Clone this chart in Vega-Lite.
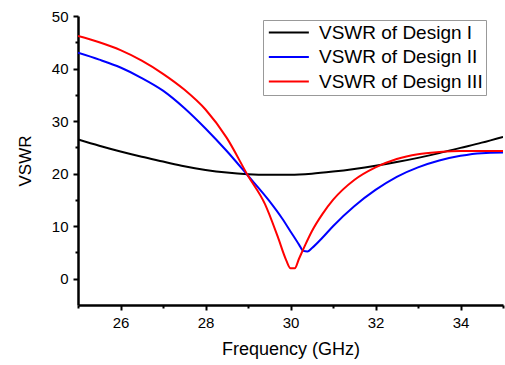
{
  "$schema": "https://vega.github.io/schema/vega-lite/v6.json",
  "width": 425,
  "height": 289,
  "autosize": "none",
  "padding": {"left": 78, "top": 16, "right": 2, "bottom": 60},
  "background": "white",
  "config": {"view": {"stroke": null}, "font": "Liberation Sans"},
  "data": {"values": [
    {"f": 25, "v": 26.5, "s": "VSWR of Design I"},
    {"f": 25.5, "v": 25.3, "s": "VSWR of Design I"},
    {"f": 26, "v": 24.2, "s": "VSWR of Design I"},
    {"f": 26.5, "v": 23.2, "s": "VSWR of Design I"},
    {"f": 27, "v": 22.3, "s": "VSWR of Design I"},
    {"f": 27.5, "v": 21.4, "s": "VSWR of Design I"},
    {"f": 28, "v": 20.7, "s": "VSWR of Design I"},
    {"f": 28.5, "v": 20.2, "s": "VSWR of Design I"},
    {"f": 29, "v": 19.9, "s": "VSWR of Design I"},
    {"f": 29.5, "v": 19.8, "s": "VSWR of Design I"},
    {"f": 30, "v": 19.8, "s": "VSWR of Design I"},
    {"f": 30.5, "v": 20.0, "s": "VSWR of Design I"},
    {"f": 31, "v": 20.4, "s": "VSWR of Design I"},
    {"f": 31.5, "v": 20.9, "s": "VSWR of Design I"},
    {"f": 32, "v": 21.5, "s": "VSWR of Design I"},
    {"f": 32.5, "v": 22.2, "s": "VSWR of Design I"},
    {"f": 33, "v": 23.0, "s": "VSWR of Design I"},
    {"f": 33.5, "v": 23.9, "s": "VSWR of Design I"},
    {"f": 34, "v": 24.9, "s": "VSWR of Design I"},
    {"f": 34.5, "v": 25.9, "s": "VSWR of Design I"},
    {"f": 35, "v": 27.0, "s": "VSWR of Design I"},
    {"f": 25, "v": 43.0, "s": "VSWR of Design II"},
    {"f": 25.5, "v": 41.7, "s": "VSWR of Design II"},
    {"f": 26, "v": 40.2, "s": "VSWR of Design II"},
    {"f": 26.5, "v": 38.2, "s": "VSWR of Design II"},
    {"f": 27, "v": 35.8, "s": "VSWR of Design II"},
    {"f": 27.5, "v": 32.5, "s": "VSWR of Design II"},
    {"f": 28, "v": 28.6, "s": "VSWR of Design II"},
    {"f": 28.5, "v": 24.3, "s": "VSWR of Design II"},
    {"f": 29, "v": 19.6, "s": "VSWR of Design II"},
    {"f": 29.5, "v": 14.8, "s": "VSWR of Design II"},
    {"f": 29.8, "v": 11.5, "s": "VSWR of Design II"},
    {"f": 30, "v": 9.0, "s": "VSWR of Design II"},
    {"f": 30.2, "v": 6.5, "s": "VSWR of Design II"},
    {"f": 30.3, "v": 5.3, "s": "VSWR of Design II"},
    {"f": 30.4, "v": 5.2, "s": "VSWR of Design II"},
    {"f": 30.5, "v": 5.8, "s": "VSWR of Design II"},
    {"f": 30.75, "v": 7.8, "s": "VSWR of Design II"},
    {"f": 31, "v": 10.0, "s": "VSWR of Design II"},
    {"f": 31.5, "v": 13.8, "s": "VSWR of Design II"},
    {"f": 32, "v": 16.9, "s": "VSWR of Design II"},
    {"f": 32.5, "v": 19.4, "s": "VSWR of Design II"},
    {"f": 33, "v": 21.2, "s": "VSWR of Design II"},
    {"f": 33.5, "v": 22.5, "s": "VSWR of Design II"},
    {"f": 34, "v": 23.4, "s": "VSWR of Design II"},
    {"f": 34.5, "v": 23.9, "s": "VSWR of Design II"},
    {"f": 35, "v": 24.0, "s": "VSWR of Design II"},
    {"f": 25, "v": 46.2, "s": "VSWR of Design III"},
    {"f": 25.5, "v": 45.0, "s": "VSWR of Design III"},
    {"f": 26, "v": 43.5, "s": "VSWR of Design III"},
    {"f": 26.5, "v": 41.5, "s": "VSWR of Design III"},
    {"f": 27, "v": 39.0, "s": "VSWR of Design III"},
    {"f": 27.5, "v": 36.0, "s": "VSWR of Design III"},
    {"f": 28, "v": 32.2, "s": "VSWR of Design III"},
    {"f": 28.5, "v": 26.8, "s": "VSWR of Design III"},
    {"f": 29, "v": 19.6, "s": "VSWR of Design III"},
    {"f": 29.4, "v": 14.2, "s": "VSWR of Design III"},
    {"f": 29.7, "v": 8.0, "s": "VSWR of Design III"},
    {"f": 29.9, "v": 3.5, "s": "VSWR of Design III"},
    {"f": 30.0, "v": 2.0, "s": "VSWR of Design III"},
    {"f": 30.1, "v": 2.0, "s": "VSWR of Design III"},
    {"f": 30.2, "v": 3.8, "s": "VSWR of Design III"},
    {"f": 30.35, "v": 6.5, "s": "VSWR of Design III"},
    {"f": 30.5, "v": 9.0, "s": "VSWR of Design III"},
    {"f": 30.75, "v": 12.3, "s": "VSWR of Design III"},
    {"f": 31, "v": 15.0, "s": "VSWR of Design III"},
    {"f": 31.5, "v": 18.8, "s": "VSWR of Design III"},
    {"f": 32, "v": 21.2, "s": "VSWR of Design III"},
    {"f": 32.5, "v": 22.8, "s": "VSWR of Design III"},
    {"f": 33, "v": 23.7, "s": "VSWR of Design III"},
    {"f": 33.5, "v": 24.1, "s": "VSWR of Design III"},
    {"f": 34, "v": 24.3, "s": "VSWR of Design III"},
    {"f": 34.5, "v": 24.3, "s": "VSWR of Design III"},
    {"f": 35, "v": 24.3, "s": "VSWR of Design III"}
  ]},
  "mark": {"type": "line", "interpolate": "monotone", "strokeWidth": 2, "clip": true},
  "encoding": {
    "x": {
      "field": "f", "type": "quantitative",
      "scale": {"domain": [25, 35], "nice": false, "zero": false},
      "axis": {
        "title": "Frequency (GHz)",
        "values": [25, 26, 27, 28, 29, 30, 31, 32, 33, 34, 35],
        "labelExpr": "datum.value % 2 == 0 && datum.value < 35 ? datum.label : ''",
        "grid": false,
        "domainColor": "#000", "domainWidth": 2.5,
        "tickColor": "#000", "tickWidth": 2,
        "tickSize": {"condition": {"test": "datum.value % 2 != 0", "value": 3}, "value": 5},
        "labelFontSize": 15, "labelColor": "#000", "labelPadding": 5,
        "titleFontSize": 18, "titleFontWeight": "normal", "titleColor": "#000", "titlePadding": 10
      }
    },
    "y": {
      "field": "v", "type": "quantitative",
      "scale": {"domain": [-5, 50], "nice": false, "zero": false},
      "axis": {
        "title": "VSWR",
        "values": [0, 5, 10, 15, 20, 25, 30, 35, 40, 45, 50],
        "labelExpr": "datum.value % 10 == 0 ? datum.label : ''",
        "grid": false,
        "domainColor": "#000", "domainWidth": 2.5,
        "tickColor": "#000", "tickWidth": 2,
        "tickSize": {"condition": {"test": "datum.value % 10 != 0", "value": 3}, "value": 5},
        "labelFontSize": 15, "labelColor": "#000", "labelPadding": 5,
        "titleFontSize": 17, "titleFontWeight": "normal", "titleColor": "#000", "titlePadding": 17
      }
    },
    "color": {
      "field": "s", "type": "nominal",
      "scale": {"domain": ["VSWR of Design I", "VSWR of Design II", "VSWR of Design III"], "range": ["#000000", "#0000ff", "#ff0000"]},
      "legend": {
        "title": null,
        "orient": "none", "legendX": 185, "legendY": 4,
        "symbolType": "M-1,0H5", "symbolSize": 178, "symbolStrokeWidth": 2,
        "labelFontSize": 19, "labelColor": "#000", "labelOffset": 34, "labelLimit": 400,
        "rowPadding": 4.5, "padding": 3,
        "strokeColor": "#999", "fillColor": "white"
      }
    }
  }
}
